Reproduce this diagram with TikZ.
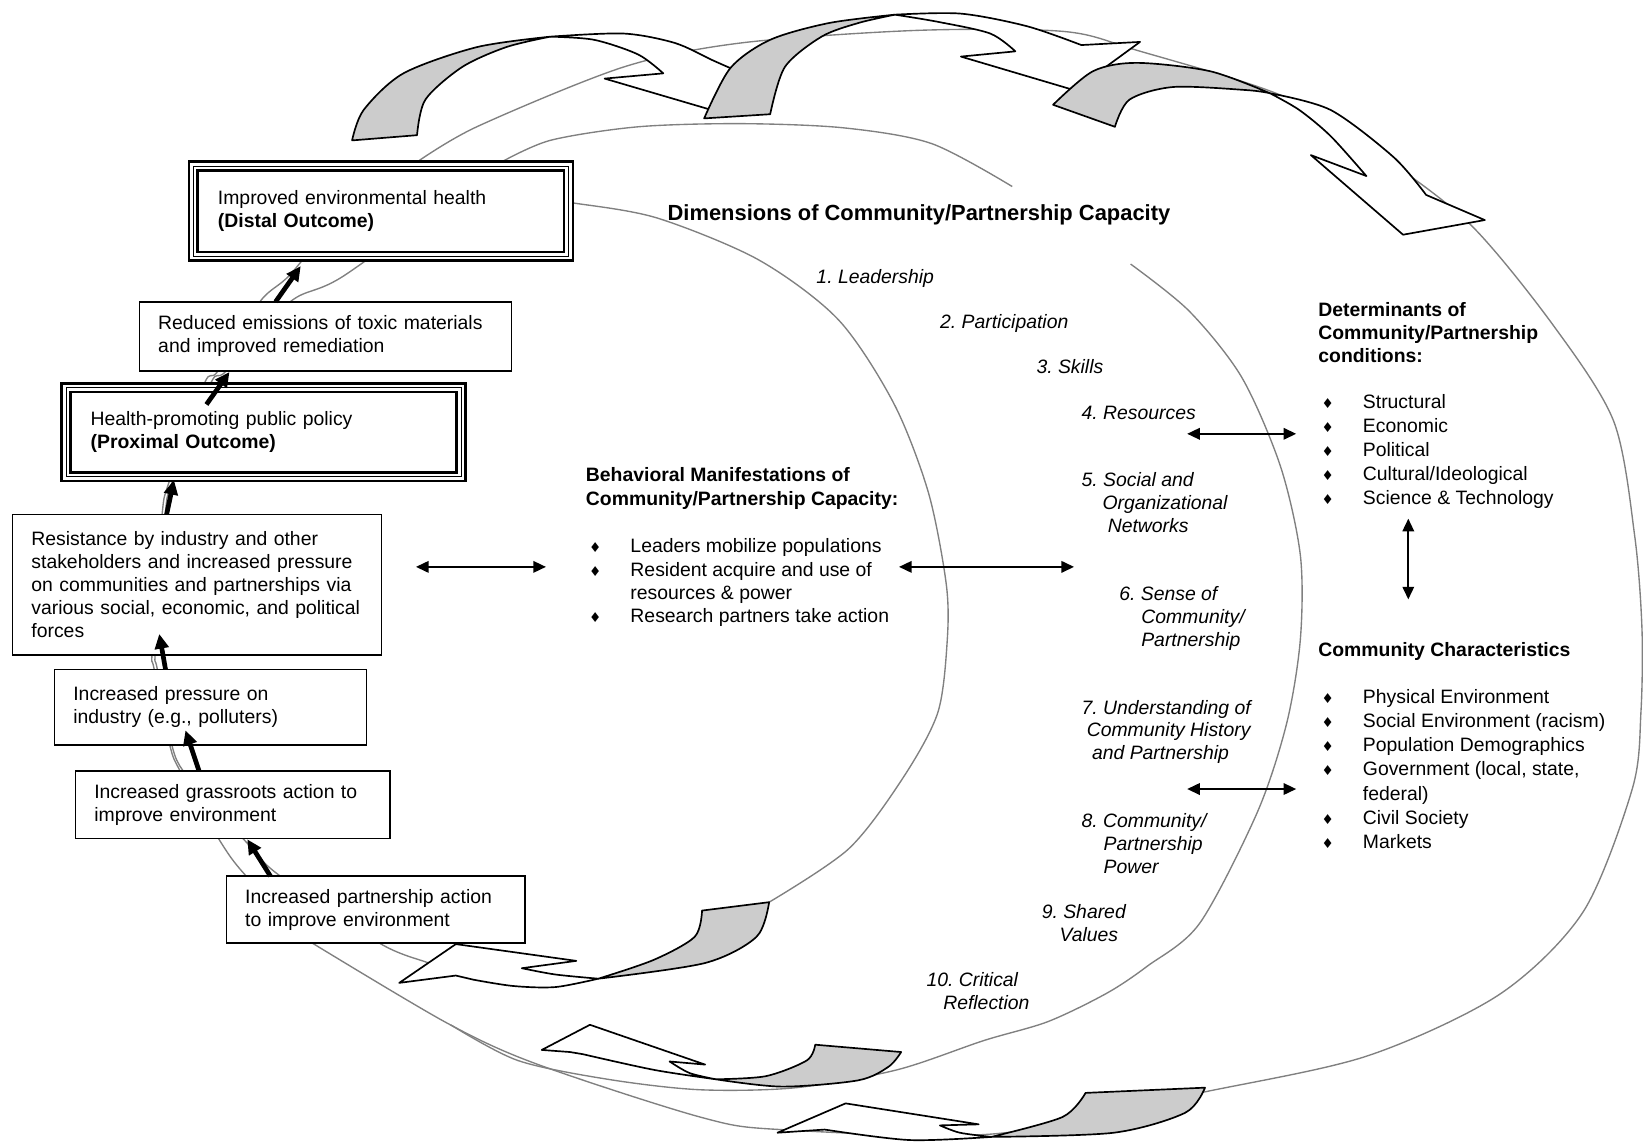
\documentclass[tikz,border=0pt]{standalone}
\usepackage{fontspec}
\setmainfont{Liberation Sans}
\newfontfamily\symfont{DejaVu Sans}
\usetikzlibrary{arrows.meta}
\frenchspacing

\newcommand{\bodyfont}{\fontsize{18.5}{22}\selectfont}
\newcommand{\bul}{\makebox[42.5pt][l]{\hspace*{3pt}{\symfont\fontsize{13}{13}\selectfont ♦}}}
\newcommand{\ind}{\hspace*{42.5pt}}

\tikzset{box/.style={draw, line width=1.4, fill=white, align=left, anchor=north west,
                     inner xsep=18pt, inner ysep=0pt, outer sep=0pt, font=\bodyfont},
         outcome/.style={box, line width=2.4, double=white, double distance=6pt,
                         postaction={draw, line width=0.9}, inner xsep=23.5pt},
         upar/.style={line width=4.5, -{Triangle[length=14pt,width=13pt]}},
         link/.style={line width=1.6, {Triangle[length=12pt,width=11pt]}-{Triangle[length=12pt,width=11pt]}},
         trail/.style={draw=gray, line width=1.3},
         ribbon/.style={draw, line width=1.6, fill=white, line join=round},
         twist/.style={ribbon, fill=gray!40},
         dim/.style={font=\fontsize{18.5}{21.7}\selectfont\itshape, align=left, anchor=base west, inner sep=0pt},
         hdr/.style={font=\fontsize{18.5}{22.5}\selectfont\bfseries, align=left, anchor=base west, inner sep=0pt},
         lst/.style={font=\fontsize{18.5}{23}\selectfont, align=left, anchor=base west, inner sep=0pt},
        }

\begin{document}
\begin{tikzpicture}[x=1pt, y=-1pt]
    \path[use as bounding box, fill=white] (0,0) rectangle (1568,1092);

    % spiral
    \draw[trail] plot[smooth] coordinates {(530,193) (549,194) (627,208) (724,248) (800,305) (853,385) (886,470) (903,557) (904,611) (895,680) (862,742) (810,810) (734,861)};
    \draw[trail] plot[smooth] coordinates {(476,156) (525,134) (609,121) (707,118) (805,122) (889,137) (966,178)};
    \draw[trail] plot[smooth] coordinates {(1079,252) (1135,297) (1185,360) (1222,445) (1241,530) (1241,610) (1228,690) (1200,775) (1145,881) (1095,922) (1056,948) (1000,975) (939,993) (856,1021) (760,1038) (668,1040) (580,1030) (494,1012) (430,978)};
    \draw[trail] plot[smooth] coordinates {(396,156) (455,121) (595,64) (707,41) (875,29) (1015,30) (1085,48) (1225,92) (1320,150) (1404,215) (1482,310) (1540,402) (1560,511) (1567,600) (1566,680) (1558,752) (1511,870) (1431,949) (1304,1008) (1145,1043) (950,1082) (745,1078) (668,1066) (511,1015) (426,976) (298,900)};
    \draw[trail] plot[smooth] coordinates {(298,900) (234,835) (209,801) (172,736) (162,711) (147,638) (145,625) (150,560) (155,488) (161,461) (195,366) (208,354) (248,288) (277,262) (330,200) (396,156)};
    \draw[trail] plot[smooth] coordinates {(440,930) (409,919) (362,900) (266,835) (239,808) (205,770) (175,736) (164,711) (150,638) (148,625) (153,560) (158,488) (164,461) (201,366) (216,354) (277,288) (330,262) (476,156)};

    % twisted arrows, top
    \draw[twist] plot[smooth] coordinates {(398,129) (406,95) (441,64) (483,45) (525,35)} -- plot[smooth] coordinates {(525,35) (455,45) (385,70) (347,105) (336,134)} -- cycle;
    \draw[ribbon] plot[smooth] coordinates {(525,35) (595,32) (644,41) (679,57) (697,65)} -- (749,62) -- (686,107) -- (577,75) -- plot[smooth] coordinates {(633,70) (609,52) (567,38) (525,35)} -- cycle;
    \draw[twist] plot[smooth] coordinates {(735,109) (749,64) (784,35) (819,22) (854,14)} -- plot[smooth] coordinates {(854,14) (791,22) (735,38) (697,65) (672,113)} -- cycle;
    \draw[ribbon] plot[smooth] coordinates {(854,14) (917,13) (980,25) (1032,43)} -- (1088,40) -- (1025,86) -- (917,54) -- plot[smooth] coordinates {(969,49) (945,32) (896,21) (854,14)} -- cycle;
    \draw[twist] plot[smooth] coordinates {(1064,121) (1078,95) (1120,83) (1190,86) (1212,89)} -- plot[smooth] coordinates {(1212,89) (1155,68) (1085,60) (1043,68) (1005,100)} -- cycle;
    \draw[ribbon] plot[smooth] coordinates {(1212,89) (1270,105) (1330,150) (1361,186)} -- (1417,210) -- (1339,224) -- (1251,148) -- plot[smooth] coordinates {(1304,168) (1270,130) (1240,105) (1212,89)} -- cycle;

    % twisted arrows, bottom
    \draw[twist] (670,869) -- (734,861) -- plot[smooth] coordinates {(734,861) (722,894) (673,919) (571,934)} -- plot[smooth] coordinates {(571,934) (624,916) (663,894) (670,869)} -- cycle;
    \draw[ribbon] plot[smooth] coordinates {(571,934) (530,942) (490,941) (452,935)} -- (435,931) -- (381,938) -- (435,901) -- (550,917) -- (498,924) -- plot[smooth] coordinates {(498,924) (530,930) (571,934)} -- cycle;
    \draw[twist] (778,997) -- (860,1004) -- plot[smooth] coordinates {(860,1004) (848,1018) (819,1031) (746,1037) (683,1030)} -- plot[smooth] coordinates {(683,1030) (731,1027) (770,1012) (778,997)} -- cycle;
    \draw[ribbon] plot[smooth] coordinates {(683,1030) (624,1021) (556,1006)} -- (544,1004) -- (517,1002) -- (563,978) -- (673,1016) -- (639,1013) -- plot[smooth] coordinates {(639,1013) (658,1024) (683,1030)} -- cycle;
    \draw[twist] (1036,1043) -- (1150,1038) -- plot[smooth] coordinates {(1150,1038) (1131,1062) (1063,1081) (946,1085)} -- plot[smooth] coordinates {(946,1085) (1014,1066) (1036,1043)} -- cycle;
    \draw[ribbon] plot[smooth] coordinates {(946,1085) (868,1088) (787,1078)} -- (742,1081) -- (807,1053) -- (934,1073) -- (897,1074) -- plot[smooth] coordinates {(897,1074) (916,1081) (946,1085)} -- cycle;

    % outcome chain
    \node[outcome, minimum width=358, minimum height=86, text width=311] (dist) at (184.5,158.5)
        {Improved environmental health\\\textbf{(Distal Outcome)}};
    \node[box, minimum width=355, minimum height=66, text width=319] (red) at (133,288)
        {Reduced emissions of toxic materials\\and improved remediation};
    \node[outcome, minimum width=377, minimum height=85, text width=330] (prox) at (63,370)
        {Health-promoting public policy\\\textbf{(Proximal Outcome)}};
    \node[box, minimum width=352, minimum height=134, text width=316] (res) at (12,491)
        {Resistance by industry and other\\stakeholders and increased pressure\\on communities and partnerships via\\various social, economic, and political\\forces};
    \node[box, minimum width=298, minimum height=72, text width=262] (press) at (52,639)
        {Increased pressure on\\industry (e.g., polluters)};
    \node[box, minimum width=300, minimum height=64, text width=264] (grass) at (72,736)
        {Increased grassroots action to\\improve environment};
    \node[box, minimum width=285, minimum height=64, text width=249] (prt) at (216,836)
        {Increased partnership action\\to improve environment};

    \draw[upar] ([shift={(42,0)}]prt.north west) -- ([shift={(164,1)}]grass.south west);
    \draw[upar] ([shift={(118,0)}]grass.north west) -- ([shift={(125,-14)}]press.south west);
    \draw[upar] ([shift={(106,0)}]press.north west) -- ([shift={(140,-20)}]res.south west);
    \draw[upar] ([shift={(147,0)}]res.north west) -- ([shift={(103,3)}]prox.south west);
    \draw[upar] ([shift={(134,16)}]prox.north west) -- ([shift={(86,1)}]red.south west);
    \draw[upar] ([shift={(130,0)}]red.north west) -- ([shift={(102.5,9.5)}]dist.south west);

    % texts (base = last line)
    \node[hdr, font=\fontsize{20.9}{24}\selectfont\bfseries] (ttl) at (637,210) {Dimensions of Community/Partnership Capacity};

    \node[hdr, font=\fontsize{18.5}{23}\selectfont\bfseries] (bhv) at (559,482.5) {Behavioral Manifestations of\\Community/Partnership Capacity:};
    \node[lst, font=\fontsize{18.5}{22.3}\selectfont] (bhvl) at (559,594.4)
        {\bul Leaders mobilize populations\\\bul Resident acquire and use of\\\ind resources \& power\\\bul Research partners take action};

    \node[dim] (d1) at (779,270.5) {1. Leadership};
    \node[dim] (d2) at (897,313.5) {2. Participation};
    \node[dim] (d3) at (989,356.5) {3. Skills};
    \node[dim] (d4) at (1032,400) {4. Resources};
    \node[dim] (d5) at (1032,507.9) {5. Social and\\\hspace*{20pt}Organizational\\\hspace*{25pt}Networks};
    \node[dim] (d6) at (1068,616.9) {6. Sense of\\\hspace*{21pt}Community/\\\hspace*{21pt}Partnership};
    \node[dim] (d7) at (1032,724.9) {7. Understanding of\\\hspace*{5pt}Community History\\\hspace*{10pt}and Partnership};
    \node[dim] (d8) at (1032,833.4) {8. Community/\\\hspace*{21pt}Partnership\\\hspace*{21pt}Power};
    \node[dim] (d9) at (994,898.2) {9. Shared\\\hspace*{17pt}Values};
    \node[dim] (d10) at (884,963.2) {10. Critical\\\hspace*{16pt}Reflection};

    \node[hdr, font=\fontsize{18.5}{21.5}\selectfont\bfseries] (det) at (1258,345.5) {Determinants of\\Community/Partnership\\conditions:};
    \node[lst] (detl) at (1258,481.5)
        {\bul Structural\\\bul Economic\\\bul Political\\\bul Cultural/Ideological\\\bul Science \& Technology};
    \node[hdr] (cc) at (1258,626.5) {Community Characteristics};
    \node[lst] (ccl) at (1258,809.5)
        {\bul Physical Environment\\\bul Social Environment (racism)\\\bul Population Demographics\\\bul Government (local, state,\\\ind federal)\\\bul Civil Society\\\bul Markets};

    % two-way links
    \coordinate (l1a) at (397,541);
    \coordinate (l1b) at (521,541);
    \coordinate (l2a) at (858,541);
    \coordinate (l2b) at (1025,541);
    \coordinate (l3a) at (1133,414);
    \coordinate (l3b) at (1237,414);
    \coordinate (l4a) at (1133,753);
    \coordinate (l4b) at (1237,753);
    \coordinate (l5a) at (1344,495);
    \coordinate (l5b) at (1344,572);
    \draw[link] (l1a) -- (l1b);
    \draw[link] (l2a) -- (l2b);
    \draw[link] (l3a) -- (l3b);
    \draw[link] (l4a) -- (l4b);
    \draw[link] (l5a) -- (l5b);
\end{tikzpicture}
\end{document}
